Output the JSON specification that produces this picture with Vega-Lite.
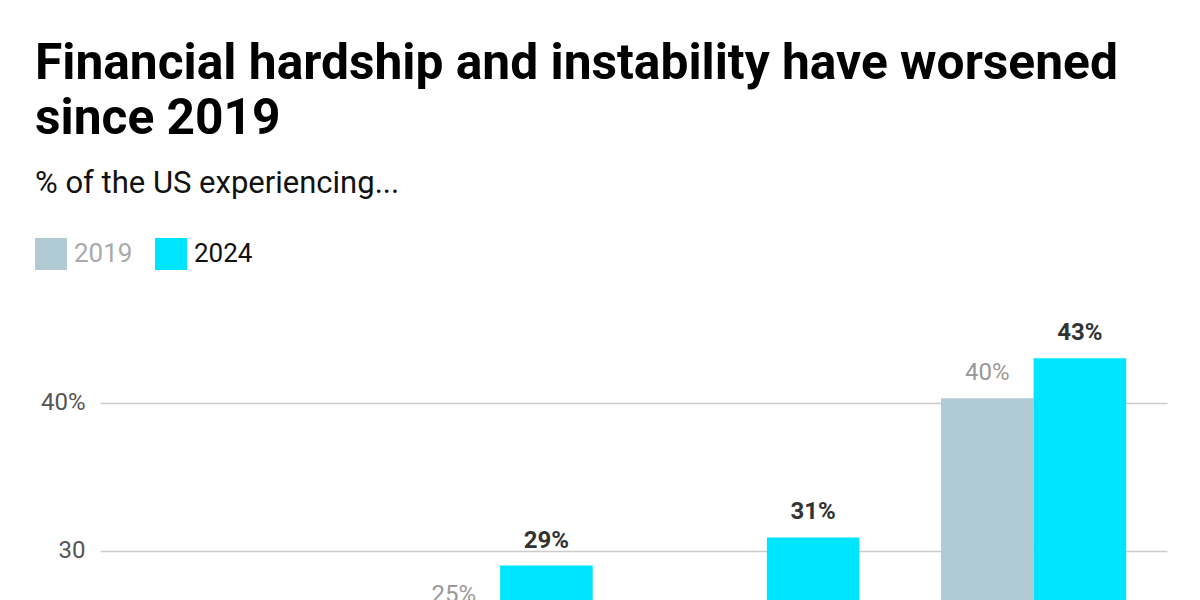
{
  "$schema": "https://vega.github.io/schema/vega-lite/v6.json",
  "width": 1067,
  "height": 696,
  "padding": {"left": 35, "top": 39, "right": 34, "bottom": 10},
  "autosize": {"type": "pad"},
  "background": "white",
  "config": {"font": "Roboto", "view": {"stroke": null}},
  "title": {
    "text": ["Financial hardship and instability have worsened", "since 2019"],
    "subtitle": "% of the US experiencing...",
    "anchor": "start",
    "frame": "bounds",
    "fontSize": 49.7,
    "fontWeight": "bold",
    "color": "#000000",
    "lineHeight": 55,
    "subtitleFontSize": 31,
    "subtitleColor": "#111111",
    "subtitlePadding": 24,
    "offset": 38
  },
  "data": {
    "values": [
      {"category": "Struggling to pay bills", "year": "2019", "value": 17, "label": "17%"},
      {"category": "Struggling to pay bills", "year": "2024", "value": 21, "label": "21%"},
      {"category": "Skipping meals or cutting back on food", "year": "2019", "value": 25.3, "label": "25%"},
      {"category": "Skipping meals or cutting back on food", "year": "2024", "value": 29, "label": "29%"},
      {"category": "Unable to cover a $400 emergency", "year": "2019", "value": 23, "label": "23%"},
      {"category": "Unable to cover a $400 emergency", "year": "2024", "value": 30.9, "label": "31%"},
      {"category": "Living paycheck to paycheck", "year": "2019", "value": 40.3, "label": "40%"},
      {"category": "Living paycheck to paycheck", "year": "2024", "value": 43, "label": "43%"}
    ]
  },
  "encoding": {
    "x": {
      "field": "category",
      "type": "nominal",
      "sort": null,
      "scale": {"paddingInner": 0.306, "paddingOuter": 0.153},
      "axis": {"title": null, "domain": false, "ticks": false, "labelFontSize": 20, "labelAngle": 0, "labelColor": "#333333", "labelLimit": 250}
    },
    "xOffset": {"field": "year", "type": "nominal", "scale": {"paddingInner": 0}},
    "y": {
      "field": "value",
      "type": "quantitative",
      "scale": {"domain": [0, 47], "nice": false},
      "axis": {
        "title": null,
        "values": [0, 10, 20, 30, 40],
        "domain": false,
        "ticks": false,
        "labelFontSize": 24,
        "labelColor": "#555555",
        "labelPadding": 15,
        "gridColor": "#cccccc",
        "gridWidth": 1.5,
        "labelExpr": "datum.value == 40 ? '40%' : datum.label"
      }
    }
  },
  "layer": [
    {
      "mark": {"type": "bar"},
      "encoding": {
        "color": {
          "field": "year",
          "type": "nominal",
          "scale": {"domain": ["2019", "2024"], "range": ["#b0cbd3", "#00e5ff"]},
          "legend": {
            "title": null,
            "orient": "none",
            "legendX": -65,
            "legendY": -61,
            "direction": "horizontal",
            "symbolType": "square",
            "symbolSize": 1024,
            "symbolStrokeWidth": 0,
            "labelFontSize": 26,
            "labelOffset": 7,
            "columnPadding": 22,
            "padding": 0,
            "encode": {
              "labels": {"update": {"fill": {"signal": "datum.label == '2019' ? '#aaaaaa' : '#111111'"}}}
            }
          }
        }
      }
    },
    {
      "transform": [{"filter": "datum.year == '2019'"}],
      "mark": {"type": "text", "baseline": "alphabetic", "dy": -18, "fontSize": 24, "color": "#999999"},
      "encoding": {"text": {"field": "label"}}
    },
    {
      "transform": [{"filter": "datum.year == '2024'"}],
      "mark": {"type": "text", "baseline": "alphabetic", "dy": -18, "fontSize": 24, "fontWeight": "bold", "color": "#333333"},
      "encoding": {"text": {"field": "label"}}
    }
  ]
}
